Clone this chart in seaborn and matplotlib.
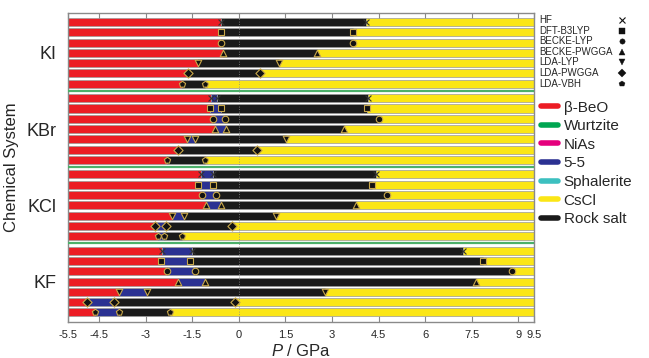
import numpy as np
import pandas as pd
import matplotlib
matplotlib.use("Agg")
import matplotlib.pyplot as plt
from matplotlib.lines import Line2D
import seaborn as sns

#### data (GPa)

systems = ['KI', 'KBr', 'KCl', 'KF']
methods = ['HF', 'DFT-B3LYP', 'BECKE-LYP', 'BECKE-PWGGA', 'LDA-LYP', 'LDA-PWGGA', 'LDA-VBH']

# end of beta-BeO region
beo_end = {
    'KI':  [-0.59, -0.57, -0.57, -0.50, -1.31, -1.65, -1.84],
    'KBr': [-0.89, -0.93, -0.82, -0.77, -1.66, -1.96, -2.32],
    'KCl': [-1.23, -1.32, -1.19, -1.05, -2.14, -2.70, -2.60],
    'KF':  [-2.46, -2.52, -2.30, -1.96, -3.86, -4.90, -4.63],
}
# end of 5-5 region (same as beo_end when no 5-5 phase)
ff_end = {
    'KI':  [-0.59, -0.57, -0.57, -0.50, -1.31, -1.65, -1.84],
    'KBr': [-0.69, -0.59, -0.46, -0.43, -1.42, -1.96, -2.32],
    'KCl': [-0.82, -0.82, -0.72, -0.57, -1.75, -2.35, -2.41],
    'KF':  [-1.50, -1.58, -1.42, -1.10, -2.95, -4.02, -3.86],
}
# end of rock salt region (CsCl above)
rs_end = {
    'KI':  [4.10, 3.67, 3.68, 2.52, 1.29, 0.68, -1.09],
    'KBr': [4.16, 4.13, 4.50, 3.38, 1.53, 0.57, -1.09],
    'KCl': [4.43, 4.29, 4.77, 3.77, 1.21, -0.23, -1.82],
    'KF':  [7.23, 7.86, 8.79, 7.64, 2.76, -0.14, -2.22],
}

p_min, p_max = -5.5, 9.5
xticks = [-5.5, -4.5, -3, -1.5, 0, 1.5, 3, 4.5, 6, 7.5, 9, 9.5]
xtick_labels = ['-5.5', '-4.5', '-3', '-1.5', '0', '1.5', '3', '4.5', '6', '7.5', '9', '9.5']

phase_colors = {'β-BeO': '#ec1c24', 'Wurtzite': '#00a651', 'NiAs': '#e5007d',
                '5-5': '#2b3192', 'Sphalerite': '#3cc0c0', 'CsCl': '#fbe616',
                'Rock salt': '#1a1a1a'}
method_markers = {'HF': 'x', 'DFT-B3LYP': 's', 'BECKE-LYP': 'o', 'BECKE-PWGGA': '^',
                  'LDA-LYP': 'v', 'LDA-PWGGA': 'D', 'LDA-VBH': 'p'}

#### build long tables

gap = 0.4
rows = []
pts = []
for g, s in enumerate(systems):
    for i, m in enumerate(methods):
        y = g * (7 + gap) + i
        t1, t2, t3 = beo_end[s][i], ff_end[s][i], rs_end[s][i]
        rows.append((s, m, y, 'β-BeO', p_min, t1))
        if t2 > t1:
            rows.append((s, m, y, '5-5', t1, t2))
        rows.append((s, m, y, 'Rock salt', t2, t3))
        rows.append((s, m, y, 'CsCl', t3, p_max))
        pts.append((m, y, t1))
        if t2 > t1:
            pts.append((m, y, t2))
        pts.append((m, y, t3))

seg = pd.DataFrame(rows, columns=['system', 'method', 'y', 'phase', 'start', 'end'])
marks = pd.DataFrame(pts, columns=['method', 'y', 'p'])

#### plot

sns.set_style('white')
plt.rcParams['font.family'] = ['Liberation Sans', 'DejaVu Sans']
plt.rcParams['mathtext.fontset'] = 'custom'
plt.rcParams['mathtext.it'] = 'Liberation Sans:italic'
plt.rcParams['mathtext.rm'] = 'Liberation Sans'

fig = plt.figure(figsize=(6.49, 3.58), dpi=100)
ax = fig.add_axes([68 / 649, 1 - 321.7 / 358, 466 / 649, 309 / 358])

ax.barh(seg['y'], seg['end'] - seg['start'], left=seg['start'], height=0.78,
        color=seg['phase'].map(phase_colors), edgecolor='#9a9a9a', linewidth=0.5, zorder=2)

for m in methods:
    sub = marks[marks['method'] == m]
    if method_markers[m] == 'x':
        ax.scatter(sub['p'], sub['y'], marker='x', s=18, color='#333333', linewidths=0.8, zorder=4)
    else:
        ax.scatter(sub['p'], sub['y'], marker=method_markers[m], s=22, color='#111111',
                   edgecolors='#c9a84a', linewidths=0.8, zorder=4)

# separators between systems
for g in range(1, len(systems)):
    ax.axhline(g * (7 + gap) - (1 + gap) / 2, color='#4cb06a', lw=1.6, zorder=3)

ax.axvline(0, color='#888888', lw=0.6, ls=(0, (1, 2)), zorder=3)

ax.set_xlim(p_min, p_max)
ax.set_ylim(3 * (7 + gap) + 6 + 0.9, -0.9)
ax.set_xticks(xticks)
ax.set_xticklabels(xtick_labels, fontsize=8)
ax.set_yticks([g * (7 + gap) + 3 for g in range(len(systems))])
ax.set_yticklabels(systems, fontsize=13)
ax.tick_params(axis='x', direction='in', top=True, bottom=True, length=4, color='#888888', pad=6)
ax.tick_params(axis='y', length=0, pad=8)
for sp in ax.spines.values():
    sp.set_color('#8a8a8a')
    sp.set_linewidth(1.0)

ax.set_xlabel('$P$ / GPa', fontsize=12, labelpad=2)
ax.set_ylabel('Chemical System', fontsize=12, labelpad=6)

# method key: text left, marker column on the right
for i, m in enumerate(methods):
    yf = 1 - (20 + i * 10.6) / 358
    fig.text(539 / 649, yf, m, fontsize=7, va='center', ha='left')
    fig.add_artist(Line2D([622 / 649], [yf], transform=fig.transFigure, ls='none',
                          marker=method_markers[m], markersize=3.8, color='#111111',
                          markeredgewidth=0.8 if m == 'HF' else 0.3))

p_handles = [Line2D([], [], color=c, lw=4) for c in phase_colors.values()]
fig.legend(p_handles, list(phase_colors.keys()), loc='upper left',
           bbox_to_anchor=(533 / 649, 1 - 93 / 358), frameon=False, fontsize=11,
           handlelength=1.15, handletextpad=0.35, labelspacing=0.3, borderpad=0)

fig.savefig('out.png', dpi=100)
